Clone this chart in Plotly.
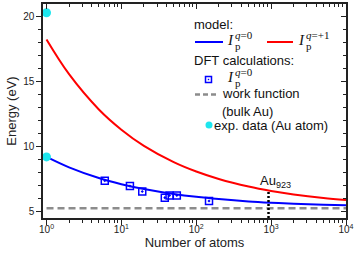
import numpy as np
import plotly.graph_objects as go

# ---------------- data ----------------
n_model = [1, 2, 5, 10, 20, 50, 100, 200, 500, 1000, 2000, 5000, 10000]
ip_q0_model = [9.2, 8.40, 7.58, 7.11, 6.74, 6.36, 6.14, 5.97, 5.79, 5.69, 5.61, 5.54, 5.50]
ip_q1_model = [18.2, 15.54, 12.84, 11.29, 10.05, 8.80, 8.08, 7.51, 6.93, 6.59, 6.32, 6.05, 5.90]

n_dft = [6, 13, 19, 38, 44, 55, 148]
ip_q0_dft = [7.38, 6.97, 6.55, 6.08, 6.25, 6.25, 5.82]

work_function_x = [1, 10000]
work_function_y = [5.27, 5.27]

n_exp = [1, 1]
ip_exp = [9.2, 20.25]

au923_n = 923
au923_top = 6.6

x_tickvals = [1, 10, 100, 1000, 10000]
x_ticktext = ["10<sup>0</sup>", "10<sup>1</sup>", "10<sup>2</sup>", "10<sup>3</sup>", "10<sup>4</sup>"]
x_minor = [m * 10 ** k for k in range(4) for m in range(2, 10)]
y_tickvals = [5, 10, 15, 20]

xr = [-0.047, 4.0]
yr = [4.52, 20.92]

BLUE = "#0000FF"
RED = "#FF0000"
CYAN = "#1EE6EE"
GRAY = "#8C8C8C"
AX = "#222222"

fig = go.Figure()

fig.add_trace(go.Scatter(x=work_function_x, y=work_function_y, mode="lines",
                         line=dict(color=GRAY, width=2.5, dash="7px,4px"), showlegend=False))
fig.add_trace(go.Scatter(x=n_model, y=ip_q1_model, mode="lines", line_shape="spline",
                         line=dict(color=RED, width=2), showlegend=False))
fig.add_trace(go.Scatter(x=n_model, y=ip_q0_model, mode="lines", line_shape="spline",
                         line=dict(color=BLUE, width=2), showlegend=False))
fig.add_trace(go.Scatter(x=[au923_n, au923_n], y=[yr[0], au923_top], mode="lines",
                         line=dict(color="black", width=2.5, dash="2px,2px"), showlegend=False))
fig.add_trace(go.Scatter(x=n_dft, y=ip_q0_dft, mode="markers",
                         marker=dict(symbol="square-open-dot", size=7, color=BLUE,
                                     line=dict(color=BLUE, width=1.5)), showlegend=False))
fig.add_trace(go.Scatter(x=n_exp, y=ip_exp, mode="markers", cliponaxis=False,
                         marker=dict(symbol="circle", size=9, color=CYAN), showlegend=False))
# carrier for the mirrored (top / right) axes
fig.add_trace(go.Scatter(x=[10], y=[10], xaxis="x2", yaxis="y2", mode="markers",
                         marker=dict(opacity=0), showlegend=False, hoverinfo="skip"))

tickfont = dict(family="Liberation Sans, Arial, sans-serif", size=10, color=AX)
fig.update_layout(
    width=357, height=257,
    margin=dict(l=43, r=11, t=4, b=39, autoexpand=False),
    paper_bgcolor="white", plot_bgcolor="white",
    font=dict(family="Liberation Sans, Arial, sans-serif", size=12, color=AX),
    xaxis=dict(type="log", range=xr, tickvals=x_tickvals, ticktext=x_ticktext, automargin=False,
               ticks="outside", ticklen=5, tickwidth=1, tickcolor=AX, ticklabelstandoff=-4,
               showline=True, linecolor=AX, linewidth=1.5, showgrid=False, zeroline=False,
               tickfont=tickfont,
               minor=dict(tickvals=x_minor, ticks="outside", ticklen=3, tickcolor=AX, showgrid=False),
               title=dict(text="Number of atoms", font=dict(size=13), standoff=4)),
    yaxis=dict(range=yr, tickvals=y_tickvals, ticks="outside", ticklen=5, tickwidth=1, automargin=False,
               tickcolor=AX, showline=True, linecolor=AX, linewidth=1.5,
               showgrid=False, zeroline=False, tickfont=tickfont,
               minor=dict(dtick=1, ticks="outside", ticklen=3, tickcolor=AX, showgrid=False),
               title=dict(text="Energy (eV)", font=dict(size=13), standoff=4)),
    xaxis2=dict(type="log", range=xr, overlaying="x", side="top", tickvals=x_tickvals, automargin=False,
                showticklabels=False, ticks="inside", ticklen=5, tickcolor=AX,
                showline=True, linecolor=AX, linewidth=1.5, showgrid=False, zeroline=False,
                minor=dict(tickvals=x_minor, ticks="inside", ticklen=3, tickcolor=AX)),
    yaxis2=dict(range=yr, overlaying="y", side="right", tickvals=y_tickvals, automargin=False,
                showticklabels=False, ticks="inside", ticklen=5, tickcolor=AX,
                showline=True, linecolor=AX, linewidth=1.5, showgrid=False, zeroline=False,
                minor=dict(dtick=1, ticks="inside", ticklen=3, tickcolor=AX)),
)

# ---------------- annotation Au923 ----------------
fig.add_annotation(x=np.log10(au923_n), y=7.35, xref="x", yref="y", text="Au<sub>923</sub>",
                   showarrow=False, xanchor="left", yanchor="middle", xshift=-11,
                   font=dict(size=13, color="#111"))

# ---------------- manual legend (pixel helper in paper coords) ----------------
PL, PT, PW, PH = 43, 4, 357 - 43 - 11, 257 - 4 - 39


def px(x):
    return (x - PL) / PW


def py(y):
    return 1 - (y - PT) / PH


LEGFONT = dict(family="Liberation Sans, Arial, sans-serif", size=13, color="#111")
MATH = "Liberation Serif, Times New Roman, serif"


def text(x, y, s):
    fig.add_annotation(x=px(x), y=py(y), xref="paper", yref="paper", text=s, showarrow=False,
                       xanchor="left", yanchor="middle", font=LEGFONT)


def ip_label(x, y, sup):
    fig.add_annotation(x=px(x), y=py(y), xref="paper", yref="paper", text="<i>I</i>",
                       showarrow=False, xanchor="left", yanchor="middle",
                       font=dict(family=MATH, size=15, color="#111"))
    fig.add_annotation(x=px(x + 8), y=py(y + 6), xref="paper", yref="paper", text="p",
                       showarrow=False, xanchor="left", yanchor="middle",
                       font=dict(family=MATH, size=11, color="#111"))
    fig.add_annotation(x=px(x + 8), y=py(y - 5), xref="paper", yref="paper", text=sup,
                       showarrow=False, xanchor="left", yanchor="middle",
                       font=dict(family=MATH, size=11, color="#111"))


def hline(x0, x1, y, color, dash="solid"):
    fig.add_shape(type="line", xref="paper", yref="paper", x0=px(x0), x1=px(x1), y0=py(y), y1=py(y),
                  line=dict(color=color, width=2 if dash == "solid" else 2.5, dash=dash))


def rect(x0, y0, x1, y1, **kw):
    fig.add_shape(type="rect", xref="paper", yref="paper", x0=px(x0), x1=px(x1),
                  y0=py(y0), y1=py(y1), **kw)


text(192, 25, "model:")
hline(195, 223, 42, BLUE)
ip_label(225, 40, "<i>q</i>=0")
hline(267, 293, 42, RED)
ip_label(296, 40, "<i>q</i>=+1")
text(192, 60, "DFT calculations:")
rect(205.5, 76.5, 211.5, 82.5, line=dict(color=BLUE, width=1.5))
rect(207.8, 78.8, 209.2, 80.2, fillcolor=BLUE, line=dict(width=0))
ip_label(225, 77, "<i>q</i>=0")
hline(195, 218, 94.5, GRAY, "5px,3px")
text(220, 94, "work function")
text(220, 112, "(bulk Au)")
fig.add_shape(type="circle", xref="paper", yref="paper", x0=px(205.5), x1=px(212.5),
              y0=py(128.5), y1=py(121.5), fillcolor=CYAN, line=dict(width=0))
text(212, 125, "exp. data (Au atom)")

fig.write_html("out.html", config={"displayModeBar": False},
               post_script="document.body.style.margin='0';document.body.style.overflow='hidden';")
